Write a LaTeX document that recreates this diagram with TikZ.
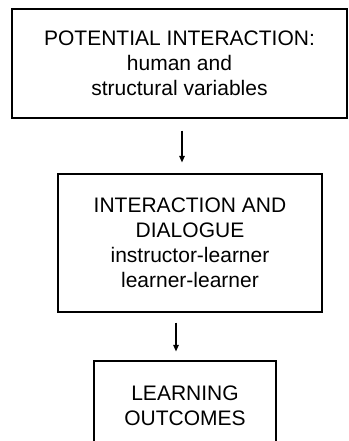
\documentclass[tikz,border=0pt]{standalone}
\usepackage{fontspec}
\setmainfont{Liberation Sans}
\usetikzlibrary{arrows.meta, positioning}

\begin{document}
\begin{tikzpicture}[x=1pt, y=1pt, >={Triangle[length=6.5pt, width=5.5pt]},
    stage/.style={draw, line width=1.2pt, align=center, inner sep=0pt,
      font=\fontsize{21}{25}\selectfont},
    flow/.style={->, line width=1.1pt}]
    \clip (0,0) rectangle (348,441); % page, bottom box runs off it

    \node[stage, minimum width=335pt, minimum height=109pt] (potential) at (179.5, 377.5)
        {POTENTIAL INTERACTION:\\ human and\\ structural variables};
    \node[stage, minimum width=264pt, minimum height=138pt] (interaction) at (190, 198)
        {INTERACTION AND\\ DIALOGUE\\ instructor-learner\\ learner-learner};
    \node[stage, minimum width=182pt, minimum height=90pt] (outcomes) at (185, 35)
        {LEARNING\\ OUTCOMES};

    \draw[flow, shorten <=12pt, shorten >=11pt] ([xshift=2.5pt]potential.south) -- ([xshift=-8pt]interaction.north);
    \draw[flow, shorten <=10pt, shorten >=9pt] ([xshift=-14pt]interaction.south) -- ([xshift=-9pt]outcomes.north);
\end{tikzpicture}
\end{document}
